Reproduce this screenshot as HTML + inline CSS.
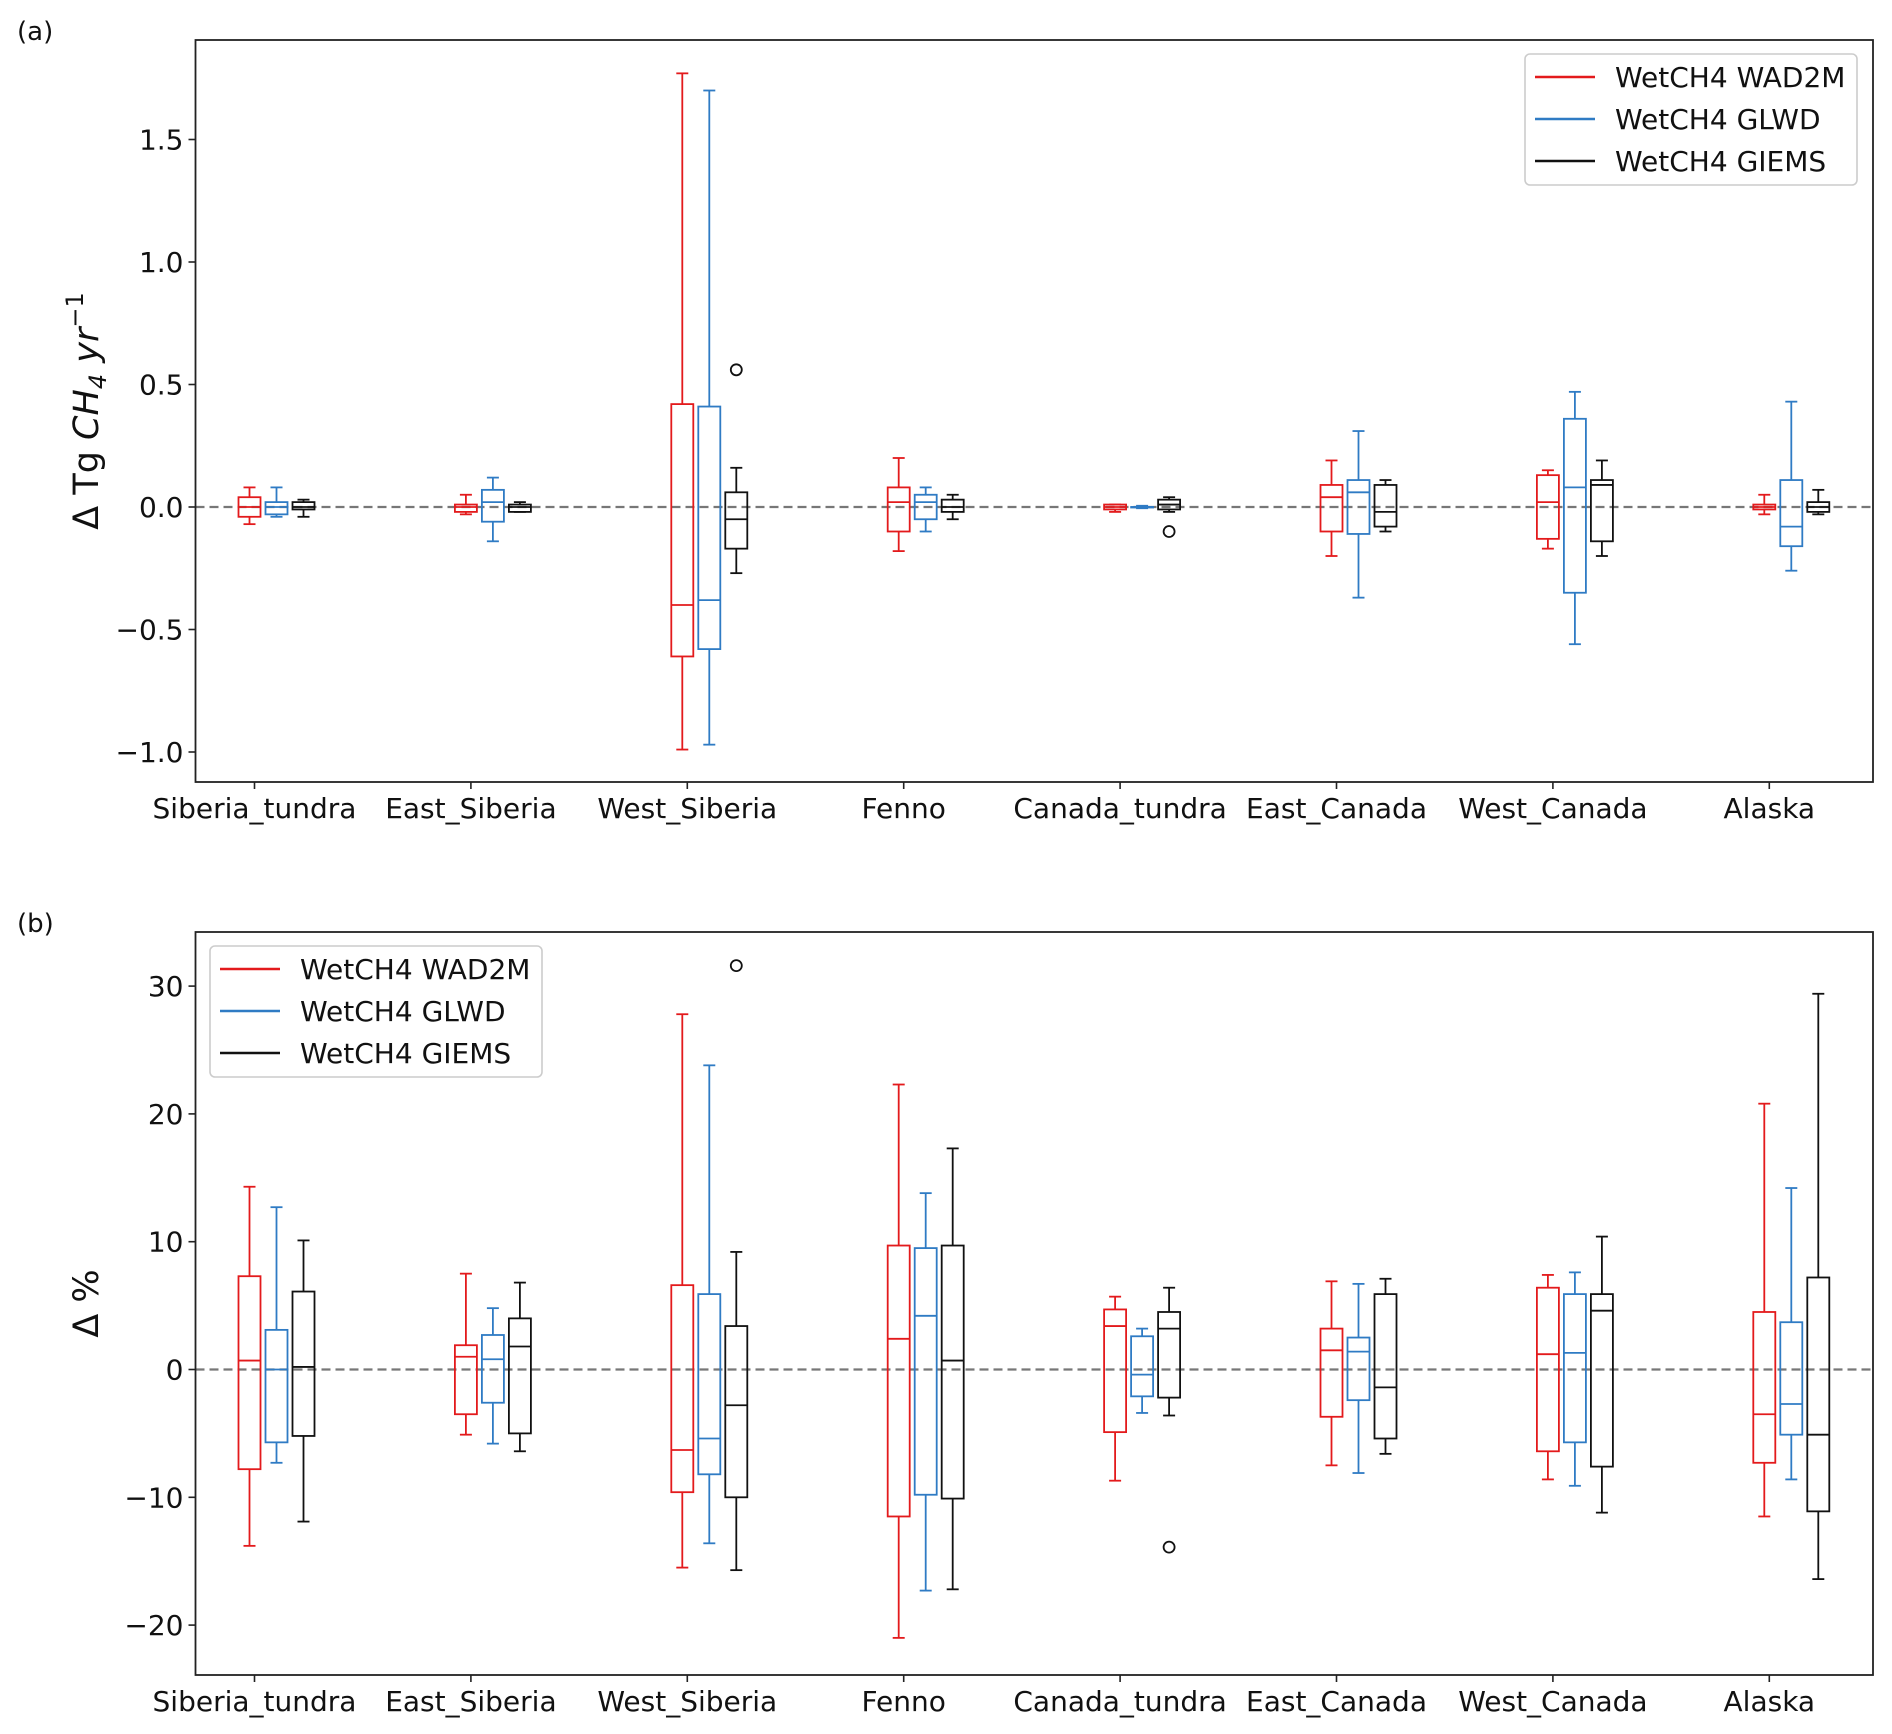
<!DOCTYPE html>
<html><head><meta charset="utf-8">
<style>
html,body{margin:0;padding:0;background:#fff;}
svg{display:block;font-family:"DejaVu Sans","Liberation Sans",sans-serif;}
</style></head>
<body>
<svg id="fig" width="1892" height="1734" viewBox="0 0 1892 1734" xmlns="http://www.w3.org/2000/svg"></svg>
<script>
const categories = ["Siberia_tundra","East_Siberia","West_Siberia","Fenno","Canada_tundra","East_Canada","West_Canada","Alaska"];
const seriesNames = ["WetCH4 WAD2M","WetCH4 GLWD","WetCH4 GIEMS"];
const seriesColors = ["#e31a1c","#2f7bc4","#111111"];
// panel a: [whislo, q1, med, q3, whishi] per category per series
const aWAD2M = [[-0.07,-0.04,0.0,0.04,0.08],[-0.03,-0.02,0.0,0.01,0.05],[-0.99,-0.61,-0.40,0.42,1.77],[-0.18,-0.10,0.02,0.08,0.20],[-0.02,-0.01,0.0,0.01,0.01],[-0.20,-0.10,0.04,0.09,0.19],[-0.17,-0.13,0.02,0.13,0.15],[-0.03,-0.01,0.0,0.01,0.05]];
const aGLWD  = [[-0.04,-0.03,0.0,0.02,0.08],[-0.14,-0.06,0.02,0.07,0.12],[-0.97,-0.58,-0.38,0.41,1.70],[-0.10,-0.05,0.02,0.05,0.08],[-0.005,0,0,0,0.005],[-0.37,-0.11,0.06,0.11,0.31],[-0.56,-0.35,0.08,0.36,0.47],[-0.26,-0.16,-0.08,0.11,0.43]];
const aGIEMS = [[-0.04,-0.01,0.0,0.02,0.03],[-0.02,-0.02,0.0,0.01,0.02],[-0.27,-0.17,-0.05,0.06,0.16],[-0.05,-0.02,0.0,0.03,0.05],[-0.02,-0.01,0.01,0.03,0.04],[-0.10,-0.08,-0.02,0.09,0.11],[-0.20,-0.14,0.09,0.11,0.19],[-0.03,-0.02,0.0,0.02,0.07]];
const aFliers = [[],[],[],[],[],[],[],[],  [],[],[],[],[],[],[],[],  [],[],[0.56],[],[-0.10],[],[],[]];
// panel b
const bWAD2M = [[-13.8,-7.8,0.7,7.3,14.3],[-5.1,-3.5,1.0,1.9,7.5],[-15.5,-9.6,-6.3,6.6,27.8],[-21.0,-11.5,2.4,9.7,22.3],[-8.7,-4.9,3.4,4.7,5.7],[-7.5,-3.7,1.5,3.2,6.9],[-8.6,-6.4,1.2,6.4,7.4],[-11.5,-7.3,-3.5,4.5,20.8]];
const bGLWD  = [[-7.3,-5.7,0,3.1,12.7],[-5.8,-2.6,0.8,2.7,4.8],[-13.6,-8.2,-5.4,5.9,23.8],[-17.3,-9.8,4.2,9.5,13.8],[-3.4,-2.1,-0.4,2.6,3.2],[-8.1,-2.4,1.4,2.5,6.7],[-9.1,-5.7,1.3,5.9,7.6],[-8.6,-5.1,-2.7,3.7,14.2]];
const bGIEMS = [[-11.9,-5.2,0.2,6.1,10.1],[-6.4,-5.0,1.8,4.0,6.8],[-15.7,-10.0,-2.8,3.4,9.2],[-17.2,-10.1,0.7,9.7,17.3],[-3.6,-2.2,3.2,4.5,6.4],[-6.6,-5.4,-1.4,5.9,7.1],[-11.2,-7.6,4.6,5.9,10.4],[-16.4,-11.1,-5.1,7.2,29.4]];
const bFliers = [[],[],[],[],[],[],[],[],  [],[],[],[],[],[],[],[],  [],[],[31.6],[],[-13.9],[],[],[]];
const aTicks = [-1.0,-0.5,0.0,0.5,1.0,1.5];
const aTickLabels = ["\u22121.0","\u22120.5","0.0","0.5","1.0","1.5"];
const bTicks = [-20,-10,0,10,20,30];
const bTickLabels = ["\u221220","\u221210","0","10","20","30"];

const NS="http://www.w3.org/2000/svg";
const svg=document.getElementById('fig');
function mk(tag,attrs,parent,text){const e=document.createElementNS(NS,tag);for(const k in attrs)e.setAttribute(k,attrs[k]);if(text!==undefined)e.textContent=text;(parent||svg).appendChild(e);return e;}

function panel(cfg){
  const g=mk('g',{});
  
  
  const L=195.5,R=1873,T=cfg.top,B=cfg.bottom;
  const y=v=>cfg.y0px - v*cfg.pxPerUnit;
  const x=i=>254.5+i*216.4;
  const zl=mk('line',{x1:L,x2:R,y1:y(0),y2:y(0),stroke:'#777',"stroke-width":2.2,"stroke-dasharray":"9,5"},g);
  
  
  const offs=[-5,22,49], bw=22, cap=6;
  cfg.series.forEach((arr,s)=>{
    arr.forEach((d,i)=>{
      const cx=x(i)+offs[s], col=seriesColors[s];
      const bg=mk('g',{stroke:col,"stroke-width":1.8,fill:'none'},g);
      
      
      mk('line',{x1:cx,x2:cx,y1:y(d[0]),y2:y(d[1])},bg);
      mk('line',{x1:cx,x2:cx,y1:y(d[3]),y2:y(d[4])},bg);
      mk('line',{x1:cx-cap,x2:cx+cap,y1:y(d[0]),y2:y(d[0])},bg);
      mk('line',{x1:cx-cap,x2:cx+cap,y1:y(d[4]),y2:y(d[4])},bg);
      mk('rect',{x:cx-bw/2,y:y(d[3]),width:bw,height:Math.max(0.5,y(d[1])-y(d[3]))},bg);
      mk('line',{x1:cx-bw/2,x2:cx+bw/2,y1:y(d[2]),y2:y(d[2])},bg);
      (cfg.fliers[s*8+i]||[]).forEach(f=>{
        const c=mk('circle',{cx:cx,cy:y(f),r:5.5,stroke:col,fill:'none',"stroke-width":1.8},g);
        
        
      });
    });
  });
  const fr=mk('rect',{x:L,y:T,width:R-L,height:B-T,fill:'none',stroke:'#222',"stroke-width":1.8},g);
  
  
  cfg.ticks.forEach((t,k)=>{
    mk('line',{x1:L-7,x2:L,y1:y(t),y2:y(t),stroke:'#222',"stroke-width":1.6},g);
    const tl=mk('text',{x:L-12,y:y(t)+10,"text-anchor":"end","font-size":28,fill:'#111'},g,cfg.tickLabels[k]);
    
    
  });
  categories.forEach((c,i)=>{
    mk('line',{x1:x(i),x2:x(i),y1:B,y2:B+7,stroke:'#222',"stroke-width":1.6},g);
    const tl=mk('text',{x:x(i),y:B+36,"text-anchor":"middle","font-size":28,fill:'#111'},g,c);
    
    
  });
  const pl=mk('text',{x:17,y:cfg.labelY,"font-size":26,fill:'#111'},g,cfg.panelLabel);
  
  
  const cy=(T+B)/2;
  const yt=mk('text',{transform:`translate(98,${cy}) rotate(-90)`,"text-anchor":"middle","font-size":35,fill:'#111'},g);
  
  
  if(cfg.panelLabel==='(a)'){
    mk('tspan',{},yt,'\u0394 Tg ');
    mk('tspan',{"font-style":"italic"},yt,'CH');
    mk('tspan',{"font-style":"italic","font-size":24,dy:8},yt,'4');
    mk('tspan',{"font-style":"italic",dy:-8},yt,' yr');
    mk('tspan',{"font-size":24,dy:-15},yt,'\u22121');
  } else { yt.textContent='\u0394 %'; }
  const lg=mk('g',{},g);
  
  
  const lx=cfg.legX, ly=cfg.legY;
  mk('rect',{x:lx,y:ly,width:332,height:131,rx:5,fill:'#fff',stroke:'#ccc',"stroke-width":1.6},lg);
  seriesNames.forEach((n,s)=>{
    const yy=ly+23+s*42;
    const le=mk('g',{},lg);
    
    
    mk('line',{x1:lx+10,x2:lx+70,y1:yy,y2:yy,stroke:seriesColors[s],"stroke-width":2.4},le);
    mk('text',{x:lx+90,y:yy+10,"font-size":28,fill:'#111'},le,n);
  });
}
panel({name:'panel-a-absolute',top:40,bottom:782,y0px:507,pxPerUnit:245,series:[aWAD2M,aGLWD,aGIEMS],fliers:aFliers,ticks:aTicks,tickLabels:aTickLabels,panelLabel:'(a)',labelY:40,legX:1525,legY:54});
panel({name:'panel-b-percent',top:932,bottom:1675,y0px:1369.5,pxPerUnit:12.78,series:[bWAD2M,bGLWD,bGIEMS],fliers:bFliers,ticks:bTicks,tickLabels:bTickLabels,panelLabel:'(b)',labelY:932,legX:210,legY:946});
</script>
</body></html>
